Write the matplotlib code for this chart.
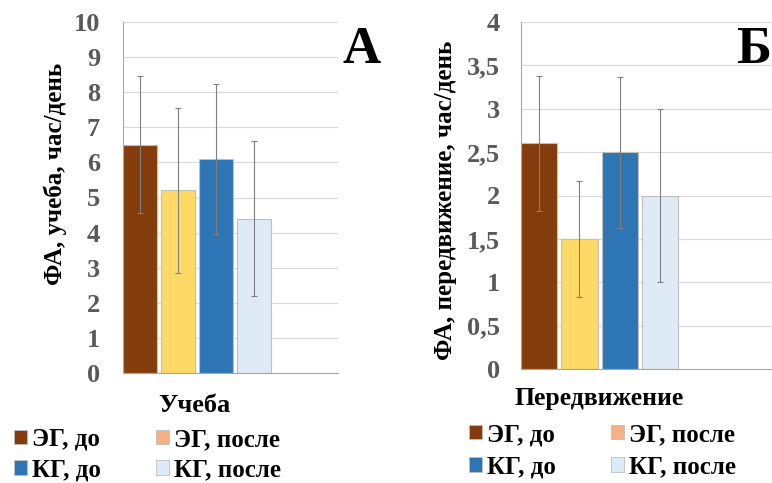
import matplotlib
matplotlib.use("Agg")
import matplotlib.pyplot as plt
from matplotlib.patches import Patch
from matplotlib.ticker import FuncFormatter

# ── data ──────────────────────────────────────────────────────────────────────
series = ["ЭГ, до", "ЭГ, после", "КГ, до", "КГ, после"]

study_mean = [6.5, 5.2, 6.1, 4.4]
study_err  = [1.95, 2.35, 2.13, 2.2]

move_mean = [2.6, 1.5, 2.5, 2.0]
move_err  = [0.78, 0.67, 0.87, 1.0]

BAR_COLORS    = ["#843C0C", "#FFD966", "#2E75B6", "#DEEBF7"]
LEGEND_COLORS = ["#843C0C", "#F4B183", "#2E75B6", "#DEEBF7"]

plt.rcParams.update({
    "font.family": "serif",
    "font.serif":  ["Liberation Serif", "DejaVu Serif"],
    "font.weight": "bold",
})

W, H = 772, 483
fig = plt.figure(figsize=(W / 100, H / 100), dpi=100)


def px_axes(x0, y_top, x1, y_bot):
    return fig.add_axes([x0 / W, (H - y_bot) / H, (x1 - x0) / W, (y_bot - y_top) / H])


def draw_panel(ax, means, errs, ymax, step, xmax, fmt, pad):
    xs = range(len(means))
    ax.bar(xs, means, width=0.9, color=BAR_COLORS, edgecolor="#BFBFBF",
           linewidth=0.8, zorder=2)
    ax.errorbar(xs, means, yerr=errs, fmt="none", ecolor="#7F7F7F",
                elinewidth=0.8, capsize=2.5, capthick=0.8, zorder=3)
    ax.set_xlim(-0.45, xmax)
    ax.set_ylim(0, ymax)
    ticks = [i * step for i in range(int(round(ymax / step)) + 1)]
    ax.set_yticks(ticks)
    ax.yaxis.set_major_formatter(FuncFormatter(fmt))
    ax.set_xticks([])
    ax.grid(axis="y", color="#D9D9D9", linewidth=0.8, zorder=0)
    for s in ("top", "right"):
        ax.spines[s].set_visible(False)
    for s in ("left", "bottom"):
        ax.spines[s].set_color("#A6A6A6")
        ax.spines[s].set_linewidth(0.8)
    ax.tick_params(axis="y", length=0, pad=pad, labelsize=19,
                   labelcolor="#595959")
    for lab in ax.get_yticklabels():
        lab.set_fontweight("bold")


def fmt_int(v, _):
    return f"{v:.0f}"


def fmt_comma(v, _):
    return f"{v:g}".replace(".", ",")


def ptext(x, y, s, **kw):
    fig.text(x / W, 1 - y / H, s, fontweight="bold", ha="center", va="center", **kw)


# ── panel A ───────────────────────────────────────────────────────────────────
axA = px_axes(123, 22, 338, 373)
draw_panel(axA, study_mean, study_err, 10, 1, 5.21, fmt_int, 16.5)
ptext(55, 174, "ФА, учеба, час/день", fontsize=18, rotation=90)
ptext(194, 405, "Учеба", fontsize=19)
ptext(362, 50, "А", fontsize=38)

# ── panel Б ───────────────────────────────────────────────────────────────────
axB = px_axes(521, 22, 772, 369)
draw_panel(axB, move_mean, move_err, 4, 0.5, 5.78, fmt_comma, 15)
ptext(445, 200, "ФА, передвижение, час/день", fontsize=18, rotation=90)
ptext(599, 399, "Передвижение", fontsize=18.5)
fig.text(771 / W, 1 - 50 / H, "Б", fontsize=38, fontweight="bold",
         ha="right", va="center")

# ── legends ───────────────────────────────────────────────────────────────────
handles = [Patch(facecolor=c, edgecolor="#BFBFBF", linewidth=0.6)
           for c in LEGEND_COLORS]
order = [0, 2, 1, 3]
for x0, y0, sp in ((14, 428, 0.3), (469, 423, 0.38)):
    fig.legend([handles[i] for i in order], [series[i] for i in order],
               ncol=2, loc="upper left", bbox_to_anchor=(x0 / W, 1 - y0 / H),
               frameon=False, prop={"size": 18, "weight": "bold"},
               handlelength=0.52, handleheight=0.52, handletextpad=0.2,
               columnspacing=2.2, labelspacing=sp, borderpad=0, borderaxespad=0)

fig.savefig("out.png", dpi=100)
